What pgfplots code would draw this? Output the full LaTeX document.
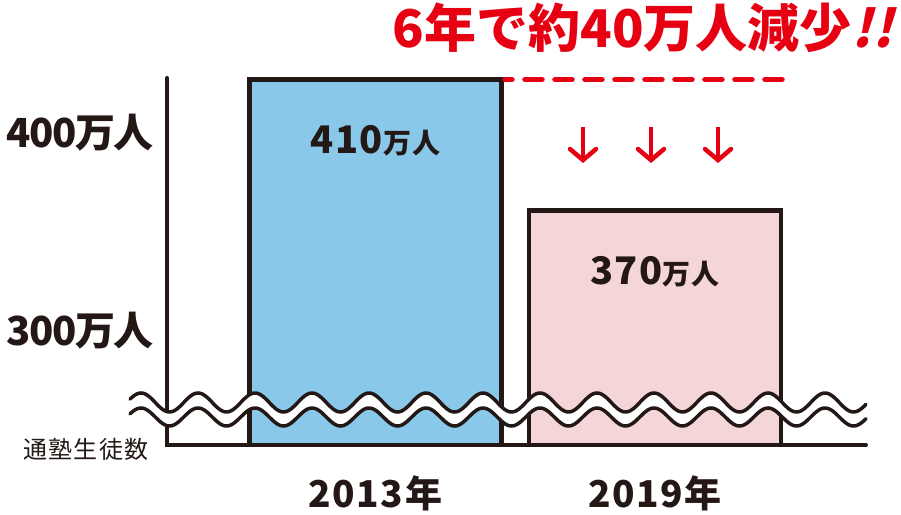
\documentclass[border=0pt]{standalone}
\usepackage{fontspec}
\setmainfont{Noto Sans CJK JP}
\newfontfamily\jpsp{Noto Sans CJK JP}[LetterSpace=6]
\newfontfamily\numsp{Noto Sans CJK JP}[LetterSpace=4]
\newfontfamily\jpmed{Noto Sans CJK JP}[LetterSpace=-4]
\newfontfamily\jpslant{Noto Sans CJK JP}[FakeSlant=0.25]
\usepackage{pgfplots}
\pgfplotsset{compat=1.18}
\usetikzlibrary{arrows.meta}
\definecolor{ink}{HTML}{231815}
\definecolor{jred}{HTML}{E60012}
\definecolor{barblue}{HTML}{89C8E8}
\definecolor{barpink}{HTML}{F5D6D8}
\begin{document}
\begin{tikzpicture}
\begin{axis}[
  at={(167pt,69pt)}, anchor=south west,
  scale only axis, width=699pt, height=398.2pt,
  xmin=-0.746, xmax=1.755, ymin=298.4, ymax=420,
  axis line style={draw=none},
  xtick={0,1}, xticklabels={2013年,2019年},
  ytick={393.7,333.5}, yticklabels={400万人,300万人},
  major tick length=0pt,
  xticklabel style={font=\numsp\bfseries\fontsize{37pt}{40pt}\selectfont, text=ink, anchor=base, yshift=-62.5pt},
  yticklabel style={font=\jpmed\bfseries\fontsize{40pt}{44pt}\selectfont, text=ink, anchor=base east, xshift=-10pt, yshift=-15pt},
  /pgf/number format/assume math mode=true,
  nodes near coords={\numsp\bfseries\fontsize{38pt}{40pt}\selectfont\pgfmathprintnumber{\pgfplotspointmeta}\fontsize{28pt}{30pt}\selectfont 万人},
  nodes near coords style={anchor=base, yshift=-73.5pt, text=ink},
]
\addplot[ybar, bar width=0.9, bar shift=0pt, fill=barblue, draw=ink, line width=4.5pt] coordinates {(0,410)};
\addplot[ybar, bar width=0.9, bar shift=0pt, fill=barpink, draw=ink, line width=4.5pt] coordinates {(1,370)};
\addplot[jred, line width=5.5pt, line cap=round, dash pattern=on 17pt off 13pt, nodes near coords={}] coordinates {(1.4544,410) (0.4633,410)};
\end{axis}
\begin{scope}[x=1pt,y=1pt]
  \draw[ink, line width=4pt, line cap=round] (167,436) -- (167,69) -- (866,69);
  \fill[white] plot[domain=130:866, samples=400] (\x,{111.5+9.5*cos(6.31579*(\x-141))}) -- plot[domain=866:130, samples=400] (\x,{97+9*cos(6.31579*(\x-141))}) -- cycle;
  \draw[ink, line width=3.5pt, line cap=round] plot[domain=130:866, samples=400] (\x,{111.5+9.5*cos(6.31579*(\x-141))});
  \draw[ink, line width=3.5pt, line cap=round] plot[domain=130:866, samples=400] (\x,{97+9*cos(6.31579*(\x-141))});
  \foreach \ax in {583,651,718}{
    \draw[jred, line width=4.5pt, -{Straight Barb[length=11pt, width=26pt, line cap=round]}] (\ax,387) -- (\ax,351);
  }
  \node[text=jred, font=\bfseries\fontsize{52pt}{56pt}\selectfont] at (643,486) {6年で約40万人減少{\jpslant\bfseries !!}};
  \node[text=ink, font=\jpsp\fontsize{24pt}{26pt}\selectfont] at (86,65) {通塾生徒数};
\end{scope}
\pgfresetboundingbox
\path (0,0) rectangle (901pt,514pt);
\end{tikzpicture}
\end{document}
